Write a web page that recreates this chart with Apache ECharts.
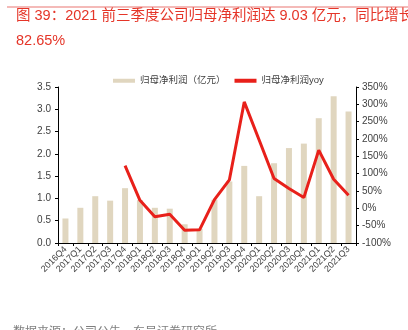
<!DOCTYPE html>
<html>
<head>
<meta charset="utf-8">
<script src="https://cdn.jsdelivr.net/npm/echarts@6/dist/echarts.min.js"></script>
<style>html,body{margin:0;padding:0;background:#fff;}#c{width:408px;height:330px;}</style>
</head>
<body>
<div id="c"></div>
<script>
var categories = ['2016Q4','2017Q1','2017Q2','2017Q3','2017Q4','2018Q1','2018Q2','2018Q3','2018Q4','2019Q1','2019Q2','2019Q3','2019Q4','2020Q1','2020Q2','2020Q3','2020Q4','2021Q1','2021Q2','2021Q3'];
var profit = [0.55,0.79,1.05,0.95,1.23,0.96,0.79,0.77,0.42,0.32,0.97,1.38,1.73,1.05,1.79,2.13,2.23,2.80,3.29,2.95];
var yoy = [null,null,null,null,123,23,-24,-17,-63,-62,25,82,307,197,86,57,31,168,84,38];
var leftTicks = {min:0, max:3.5, interval:0.5};
var rightTicks = {min:-100, max:350, interval:50};

var FONT = '"Liberation Sans","Noto Sans CJK SC",sans-serif';
var chart = echarts.init(document.getElementById('c'));
chart.setOption({
  animation:false,
  backgroundColor:'#fff',
  title:{
    text:'图 39：2021 前三季度公司归母净利润达 9.03 亿元，同比增长\n82.65%',
    left:16, top:3, padding:0,
    textStyle:{color:'#E53528', fontSize:14.5, fontWeight:'normal', fontFamily:FONT, lineHeight:25}
  },
  graphic:[
    {type:'line', shape:{x1:7,y1:7,x2:408,y2:7}, style:{stroke:'#F1A3A0', lineWidth:1.5}},
    {type:'text', left:13, top:327, style:{text:'数据来源：公司公告，东吴证券研究所', fill:'#7f7f7f', font:'12px '+FONT}}
  ],
  legend:{
    left:108, top:71, itemWidth:22, itemHeight:4, itemGap:9,
    textStyle:{color:'#404040', fontSize:9.5, fontFamily:FONT},
    data:[
      {name:'归母净利润（亿元）', icon:'rect'},
      {name:'归母净利润yoy', icon:'rect', itemStyle:{color:'#E8201A'}}
    ]
  },
  grid:{left:58, right:52, top:87, bottom:87},
  xAxis:{
    type:'category', data:categories, boundaryGap:true,
    axisLine:{lineStyle:{color:'#000', width:1}},
    axisTick:{show:true, alignWithLabel:false, length:3, lineStyle:{color:'#000'}},
    axisLabel:{rotate:45, fontSize:9, color:'#404040', fontFamily:FONT, interval:0, margin:5}
  },
  yAxis:[
    {type:'value', min:leftTicks.min, max:leftTicks.max, interval:leftTicks.interval,
     splitLine:{show:false},
     axisLine:{show:true, lineStyle:{color:'#000'}},
     axisTick:{show:true, length:3, lineStyle:{color:'#000'}},
     axisLabel:{fontSize:10, color:'#404040', fontFamily:FONT, margin:7, formatter:function(v){return v.toFixed(1);}}},
    {type:'value', min:rightTicks.min, max:rightTicks.max, interval:rightTicks.interval,
     splitLine:{show:false},
     axisLine:{show:true, lineStyle:{color:'#000'}},
     axisTick:{show:true, length:3, lineStyle:{color:'#000'}},
     axisLabel:{fontSize:10, color:'#404040', fontFamily:FONT, margin:6, formatter:'{value}%'}}
  ],
  series:[
    {name:'归母净利润（亿元）', type:'bar', data:profit, barWidth:6, yAxisIndex:0,
     itemStyle:{color:'#E0D6BF'}},
    {name:'归母净利润yoy', type:'line', data:yoy, yAxisIndex:1, symbol:'none',
     lineStyle:{color:'#E8201A', width:3}, itemStyle:{color:'#E8201A'}}
  ]
});
</script>
</body>
</html>
